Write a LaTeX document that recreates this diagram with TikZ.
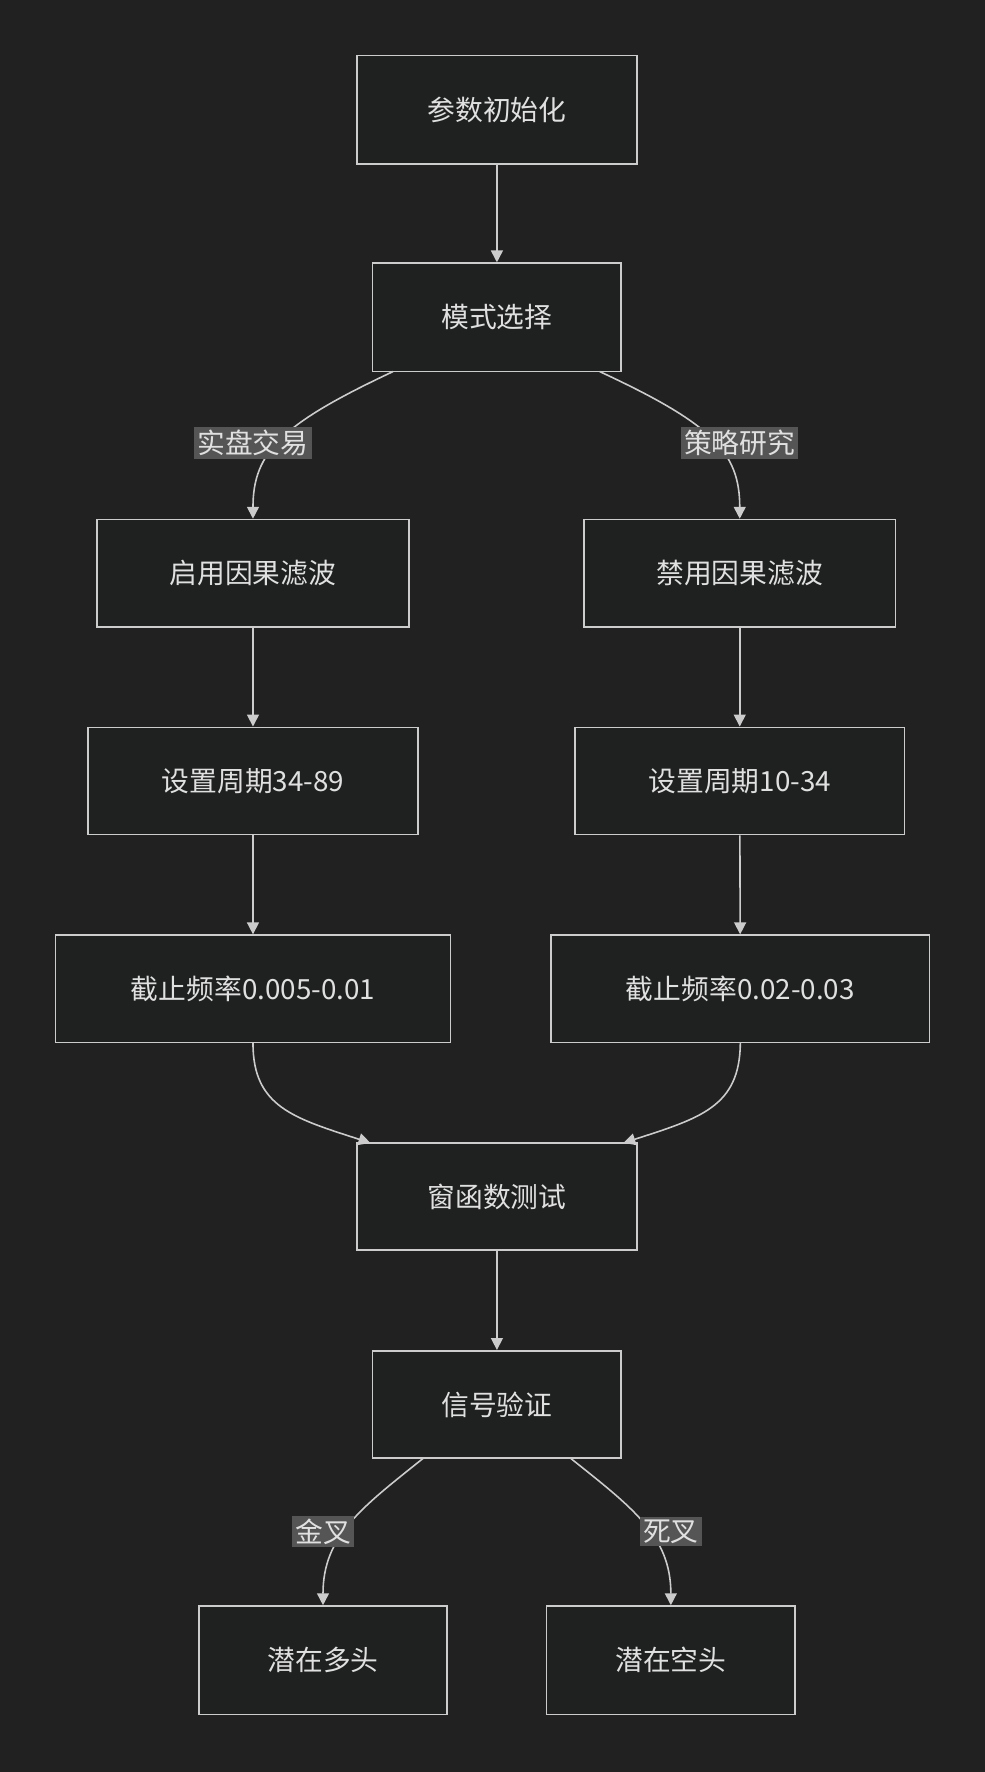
\documentclass[tikz,border=0pt]{standalone}
\usepackage{fontspec}
\setmainfont{Noto Sans CJK SC}
\usetikzlibrary{arrows.meta}
\definecolor{bg}{HTML}{212121}
\definecolor{bx}{HTML}{1F2020}
\definecolor{ln}{HTML}{CCCCCC}
\definecolor{tx}{HTML}{E0E0E0}
\definecolor{lb}{HTML}{555555}
\begin{document}
\begin{tikzpicture}[x=0.02cm,y=-0.02cm,
  box/.style={draw=ln,fill=bx,line width=0.8pt,text=tx,font=\fontsize{14}{16}\selectfont,inner sep=0pt},
  lab/.style={fill=lb,text=tx,font=\fontsize{14}{16}\selectfont,inner sep=1.5pt},
  arr/.style={draw=ln,line width=0.8pt,-{Triangle[length=6pt,width=6pt]}}]
\fill[bg] (0,0) rectangle (872,1569);
\useasboundingbox (0,0) rectangle (872,1569);
\newcommand{\bx}[6]{\node[box,minimum width=#4*0.02cm-#2*0.02cm,minimum height=#5*0.02cm-#3*0.02cm] (#1) at ({(#2+#4)/2},{(#3+#5)/2}) {#6};}
\bx{a}{316}{49}{564}{145}{参数初始化}
\bx{b}{330}{233}{550}{329}{模式选择}
\bx{c}{86}{460}{362}{555}{启用因果滤波}
\bx{d}{517}{460}{793}{555}{禁用因果滤波}
\bx{e}{78}{644}{370}{739}{设置周期34-89}
\bx{f}{509}{644}{801}{739}{设置周期10-34}
\bx{g}{49}{828}{399}{923}{截止频率0.005-0.01}
\bx{h}{488}{828}{823}{923}{截止频率0.02-0.03}
\bx{i}{316}{1012}{564}{1107}{窗函数测试}
\bx{j}{330}{1196}{550}{1291}{信号验证}
\bx{k}{176}{1422}{396}{1518}{潜在多头}
\bx{l}{484}{1422}{704}{1518}{潜在空头}
\draw[arr] (a) -- (b);
\draw[arr] (c) -- (e);
\draw[arr] (d) -- (f);
\draw[arr] (e) -- (g);
\draw[arr] (f) -- (h);
\draw[arr] (i) -- (j);
\coordinate (b1) at (348,329); \coordinate (b2) at (531,329);
\draw[arr] (b1) .. controls (250,375) and (224,400) .. (c.north);
\draw[arr] (b2) .. controls (630,375) and (655,400) .. (d.north);
\node[lab] at (224,392) {实盘交易};
\node[lab] at (655,392) {策略研究};
\coordinate (i1) at (328,1012); \coordinate (i2) at (552,1012);
\draw[arr] (g.south) .. controls (224,980) and (260,990) .. (i1);
\draw[arr] (h.south) .. controls (655,980) and (620,990) .. (i2);
\coordinate (j1) at (375,1291); \coordinate (j2) at (505,1291);
\draw[arr] (j1) .. controls (320,1335) and (286,1360) .. (k.north);
\draw[arr] (j2) .. controls (560,1335) and (594,1360) .. (l.north);
\node[lab] at (286,1356) {金叉};
\node[lab] at (594,1356) {死叉};
\end{tikzpicture}
\end{document}
